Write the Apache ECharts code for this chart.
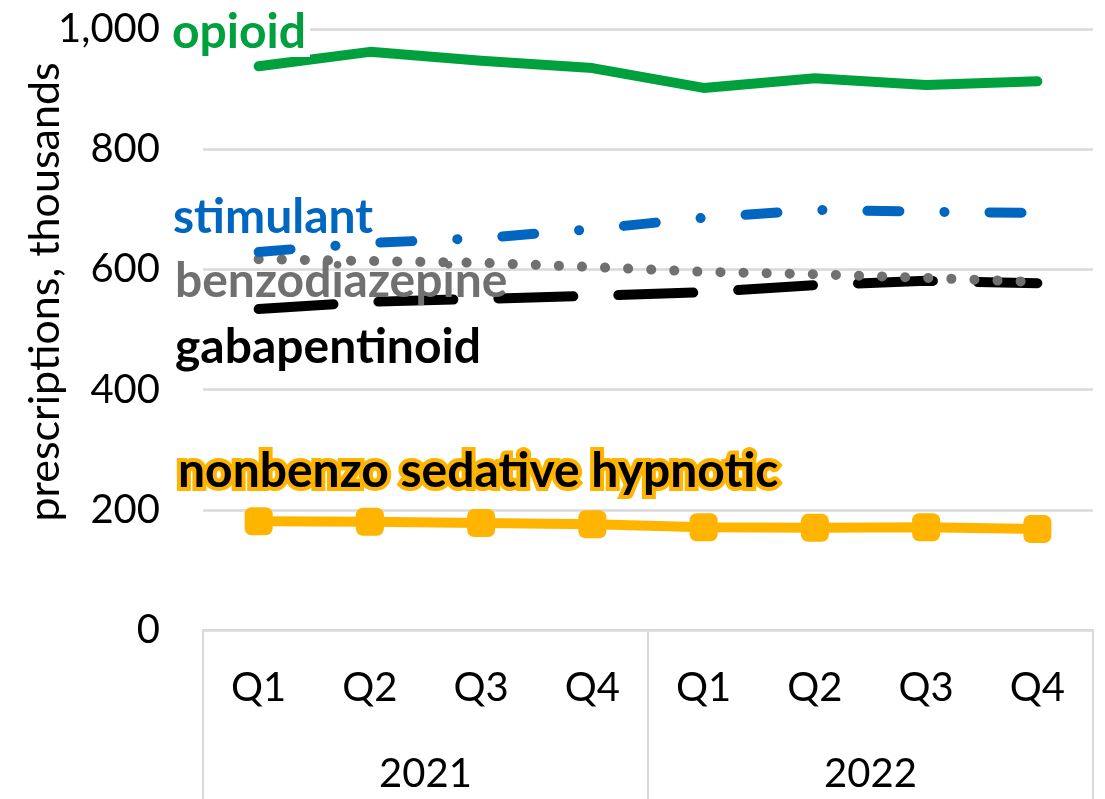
<!DOCTYPE html>
<html lang="en">

<head>
    <meta charset="UTF-8">
    <title>prescriptions</title>
    <style>
        html, body { margin: 0; padding: 0; background: #fff; }
        #chart { width: 1105px; height: 799px; }
    </style>
</head>

<body>
    <div id="chart"></div>
    <script src="https://cdn.jsdelivr.net/npm/echarts@6/dist/echarts.min.js"></script>
    <script>
        // quarters and years (two-level category axis)
        const quarters = ['Q1', 'Q2', 'Q3', 'Q4', 'Q1', 'Q2', 'Q3', 'Q4'];
        const years = ['2021', '2022'];
        const yTicks = [0, 200, 400, 600, 800, 1000];

        // prescriptions, thousands
        const opioid = [938, 962, 947, 935, 902, 918, 907, 913];
        const stimulant = [629, 644, 652, 667, 686, 699, 696, 694];
        const benzodiazepine = [617, 614, 611, 604, 596, 592, 586, 579];
        const gabapentinoid = [534, 546, 551, 556, 562, 574, 581, 577];
        const nonbenzo = [181, 180, 178, 176, 171, 170, 171, 168];

        const FONT = 'Lato, "Open Sans", sans-serif';
        const GRID = '#d9d9d9';

        function label(text, x, y, color, extra) {
            return {
                type: 'text',
                x: x,
                y: y,
                z: 100,
                style: Object.assign({
                    text: text,
                    font: 'bold 48px ' + FONT,
                    fill: color,
                    textAlign: 'left',
                    textVerticalAlign: 'middle',
                    align: 'left',
                    verticalAlign: 'middle'
                }, extra || {})
            };
        }

        const line = (name, data, color, type, extra) => Object.assign({
            name: name,
            type: 'line',
            data: data,
            showSymbol: false,
            symbol: 'none',
            silent: true,
            lineStyle: {
                color: color,
                width: 10,
                type: type,
                cap: 'round',
                join: 'round'
            }
        }, extra || {});

        let myChart = echarts.init(document.getElementById('chart'));
        myChart.setOption({
            animation: false,
            backgroundColor: '#fff',
            grid: {
                left: 203,
                right: 12,
                top: 29,
                bottom: 169
            },
            xAxis: [{
                type: 'category',
                data: quarters,
                position: 'bottom',
                axisLine: { lineStyle: { color: GRID, width: 2 } },
                axisTick: { show: false },
                axisLabel: {
                    color: '#000',
                    fontSize: 40,
                    fontFamily: FONT,
                    margin: 38,
                    interval: 0
                }
            }, {
                type: 'category',
                data: years,
                position: 'bottom',
                axisLine: { show: false },
                axisTick: {
                    show: true,
                    interval: 0,
                    length: 172,
                    lineStyle: { color: GRID, width: 2 }
                },
                axisLabel: {
                    color: '#000',
                    fontSize: 40,
                    fontFamily: FONT,
                    margin: 124,
                    interval: 0
                }
            }],
            yAxis: {
                type: 'value',
                min: yTicks[0],
                max: yTicks[yTicks.length - 1],
                interval: 200,
                axisLine: { show: false },
                axisTick: { show: false },
                splitLine: { lineStyle: { color: GRID, width: 2.5 } },
                axisLabel: {
                    color: '#000',
                    fontSize: 40,
                    fontFamily: FONT,
                    margin: 43,
                    formatter: v => v.toLocaleString('en-US')
                }
            },
            graphic: [
                {
                    type: 'text',
                    x: 45,
                    y: 292,
                    rotation: Math.PI / 2,
                    z: 100,
                    style: {
                        text: 'prescriptions, thousands',
                        font: '43px ' + FONT,
                        fill: '#000',
                        textAlign: 'center',
                        textVerticalAlign: 'middle',
                        align: 'center',
                        verticalAlign: 'middle'
                    }
                },
                label('opioid', 172, 33, '#00A03E', { backgroundColor: '#fff', padding: [0, 4, 0, 0] }),
                label('stimulant', 173, 218, '#0066C0'),
                label('benzodiazepine', 175, 282, '#707070'),
                label('gabapentinoid', 175, 348, '#000'),
                label('nonbenzo sedative hypnotic', 178, 472, '#000', {
                    stroke: '#FFB400',
                    lineWidth: 8,
                    lineJoin: 'round'
                })
            ],
            series: [
                line('gabapentinoid', gabapentinoid, '#000', [75, 45]),
                line('benzodiazepine', benzodiazepine, '#707070', [0.1, 23]),
                line('stimulant', stimulant, '#0066C0', [32, 45, 0.1, 45]),
                line('opioid', opioid, '#00A03E', 'solid'),
                {
                    name: 'nonbenzo sedative hypnotic',
                    type: 'line',
                    data: nonbenzo,
                    silent: true,
                    symbol: 'roundRect',
                    symbolSize: 28,
                    itemStyle: { color: '#FFB400' },
                    lineStyle: { color: '#FFB400', width: 10 }
                }
            ]
        });
    </script>
</body>

</html>
